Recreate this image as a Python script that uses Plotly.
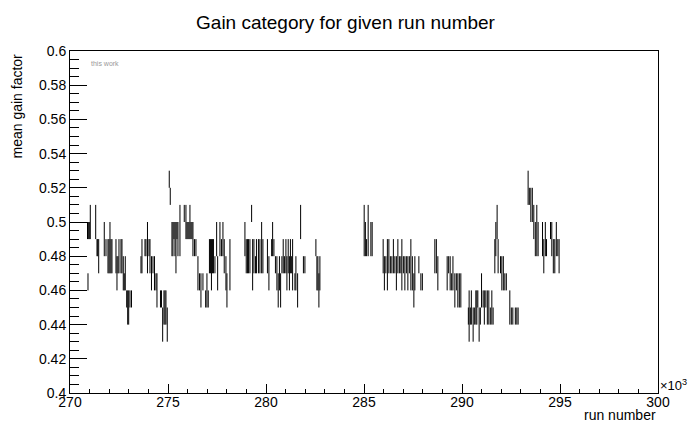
import plotly.graph_objects as go

# run numbers (each entry drawn as a vertical segment from lo to hi)
runs = [
    270893, 270918, 270954, 270984, 271035, 271311, 271377, 271413, 271464, 271749,
    271836, 271938, 271989, 272040, 272091, 272142, 272346, 272397, 272448, 272499,
    272601, 272652, 272718, 272769, 272820, 272892, 272943, 272994, 273060, 273137,
    273621, 273672, 273825, 273876, 273953, 274029, 274080, 274157, 274233, 274310,
    274386, 274437, 274616, 274667, 274728, 274794, 274845, 274896, 274962,
    275064, 275115, 275202, 275253, 275304, 275355, 275406, 275457, 275508, 275610,
    275829, 275916, 275967, 276018, 276069, 276120, 276171, 276222, 276273, 276350,
    276426, 276528, 276605, 276681, 276783, 276921, 276987, 277053, 277115, 277166,
    277217, 277268, 277319, 277395, 277482, 277533, 277650, 277727, 277803, 277869,
    277956, 278007, 278160, 278925, 278991, 279053, 279104, 279180, 279266, 279318,
    279384, 279461, 279512, 279614, 279690, 279777, 279843, 280073, 280149, 280287,
    280338, 280404, 280481, 280557, 280623, 280685, 280746, 280812, 280878, 280940,
    281016, 281067, 281133, 281195, 281246, 281307, 281358, 281475, 281526, 281613,
    281766, 281909, 281985, 282546, 282597, 282648, 282699, 282750,
    285009, 285071, 285132, 285213, 285351, 285417, 285978, 286040, 286116, 286193,
    286269, 286346, 286422, 286499, 286575, 286652, 286728, 286805, 286881, 286932,
    287009, 287085, 287162, 287238, 287315, 287391, 287468, 287544, 287595, 287799,
    287901, 287978, 288615, 288692, 288768,
    289243, 289319, 289396, 289472, 289538, 289635, 289712, 289788, 289865, 289941,
    290324, 290364, 290426, 290477, 290568, 290630, 290706, 290757, 290808, 290874,
    290936, 290997, 291078, 291140, 291216, 291293, 291369, 291446, 291522, 291588,
    291675, 291726, 291792, 291843, 291966, 292032, 292109, 292185, 292262, 292440,
    292517, 292593, 292721, 292797, 292863,
    293373, 293435, 293511, 293588, 293664, 293741, 293817, 293883, 294108, 294174,
    294251, 294312, 294516, 294582, 294659, 294735, 294812, 294888, 294954,
]
gain_lo = [
    0.49, 0.46, 0.49, 0.49, 0.49, 0.49, 0.48, 0.48, 0.47, 0.48,
    0.48, 0.47, 0.47, 0.47, 0.47, 0.47, 0.47, 0.46, 0.47, 0.47,
    0.47, 0.47, 0.46, 0.46, 0.46, 0.45, 0.44, 0.44, 0.45, 0.45,
    0.47, 0.47, 0.48, 0.48, 0.47, 0.48, 0.47, 0.46, 0.47, 0.46,
    0.46, 0.45, 0.45, 0.45, 0.43, 0.44, 0.44, 0.44, 0.43,
    0.52, 0.51, 0.48, 0.48, 0.49, 0.48, 0.47, 0.49, 0.48, 0.48,
    0.50, 0.49, 0.49, 0.49, 0.49, 0.49, 0.49, 0.49, 0.48, 0.48,
    0.48, 0.46, 0.46, 0.45, 0.46, 0.45, 0.45, 0.45, 0.47, 0.47,
    0.46, 0.47, 0.47, 0.47, 0.48, 0.46, 0.48, 0.48, 0.48, 0.47,
    0.46, 0.45, 0.46, 0.48, 0.47, 0.47, 0.47, 0.47, 0.50, 0.46,
    0.47, 0.47, 0.47, 0.47, 0.47, 0.47, 0.47, 0.47, 0.46, 0.48,
    0.48, 0.48, 0.47, 0.46, 0.45, 0.46, 0.45, 0.47, 0.47, 0.47,
    0.47, 0.46, 0.47, 0.46, 0.47, 0.47, 0.46, 0.46, 0.46, 0.45,
    0.49, 0.47, 0.47, 0.48, 0.46, 0.46, 0.45, 0.46,
    0.48, 0.48, 0.48, 0.48, 0.48, 0.48, 0.47, 0.46, 0.47, 0.46,
    0.47, 0.47, 0.47, 0.47, 0.47, 0.46, 0.47, 0.47, 0.47, 0.46,
    0.47, 0.46, 0.47, 0.46, 0.47, 0.46, 0.46, 0.45, 0.46, 0.47,
    0.46, 0.46, 0.47, 0.47, 0.46,
    0.46, 0.47, 0.46, 0.46, 0.46, 0.45, 0.46, 0.45, 0.45, 0.45,
    0.44, 0.43, 0.44, 0.44, 0.43, 0.44, 0.44, 0.44, 0.45, 0.43,
    0.44, 0.45, 0.45, 0.44, 0.45, 0.44, 0.44, 0.44, 0.44, 0.44,
    0.47, 0.48, 0.49, 0.47, 0.47, 0.46, 0.46, 0.46, 0.46, 0.44,
    0.44, 0.44, 0.44, 0.44, 0.44,
    0.51, 0.51, 0.50, 0.50, 0.49, 0.48, 0.48, 0.48, 0.48, 0.47,
    0.48, 0.48, 0.49, 0.48, 0.47, 0.47, 0.48, 0.48, 0.47,
]
gain_hi = [
    0.50, 0.47, 0.50, 0.50, 0.51, 0.51, 0.49, 0.49, 0.49, 0.50,
    0.49, 0.49, 0.49, 0.50, 0.49, 0.49, 0.49, 0.48, 0.48, 0.49,
    0.49, 0.49, 0.48, 0.47, 0.48, 0.46, 0.46, 0.46, 0.46, 0.46,
    0.48, 0.49, 0.49, 0.49, 0.50, 0.49, 0.49, 0.48, 0.48, 0.48,
    0.47, 0.47, 0.46, 0.46, 0.45, 0.46, 0.46, 0.46, 0.45,
    0.53, 0.52, 0.50, 0.50, 0.50, 0.50, 0.50, 0.50, 0.50, 0.51,
    0.51, 0.51, 0.50, 0.50, 0.50, 0.51, 0.50, 0.50, 0.50, 0.49,
    0.49, 0.48, 0.47, 0.47, 0.47, 0.46, 0.47, 0.46, 0.49, 0.49,
    0.49, 0.49, 0.49, 0.48, 0.50, 0.48, 0.50, 0.49, 0.50, 0.49,
    0.48, 0.47, 0.49, 0.50, 0.49, 0.49, 0.49, 0.49, 0.51, 0.49,
    0.49, 0.48, 0.49, 0.49, 0.49, 0.50, 0.49, 0.49, 0.48, 0.49,
    0.50, 0.49, 0.48, 0.48, 0.47, 0.48, 0.47, 0.48, 0.49, 0.48,
    0.49, 0.48, 0.49, 0.48, 0.49, 0.48, 0.49, 0.47, 0.48, 0.47,
    0.51, 0.48, 0.48, 0.49, 0.48, 0.48, 0.47, 0.48,
    0.51, 0.50, 0.49, 0.51, 0.50, 0.50, 0.49, 0.48, 0.48, 0.49,
    0.49, 0.48, 0.48, 0.49, 0.48, 0.48, 0.49, 0.48, 0.48, 0.49,
    0.48, 0.48, 0.48, 0.48, 0.48, 0.49, 0.48, 0.47, 0.48, 0.48,
    0.47, 0.47, 0.49, 0.49, 0.48,
    0.48, 0.48, 0.48, 0.47, 0.48, 0.47, 0.47, 0.47, 0.47, 0.47,
    0.45, 0.46, 0.45, 0.46, 0.45, 0.45, 0.46, 0.46, 0.46, 0.45,
    0.45, 0.47, 0.46, 0.46, 0.46, 0.46, 0.46, 0.45, 0.46, 0.45,
    0.49, 0.50, 0.51, 0.49, 0.48, 0.48, 0.48, 0.47, 0.47, 0.46,
    0.45, 0.45, 0.45, 0.45, 0.45,
    0.53, 0.52, 0.52, 0.52, 0.51, 0.50, 0.51, 0.50, 0.50, 0.49,
    0.50, 0.49, 0.50, 0.50, 0.49, 0.49, 0.50, 0.49, 0.49,
]

x_ticks = [270000, 275000, 280000, 285000, 290000, 295000, 300000]
x_tick_labels = ["270", "275", "280", "285", "290", "295", "300"]

xs, ys = [], []
for r, a, b in zip(runs, gain_lo, gain_hi):
    xs += [r, r, None]
    ys += [a, b, None]

FONT = "Liberation Sans, Arial, Helvetica, sans-serif"

fig = go.Figure()
fig.add_trace(go.Scatter(x=xs, y=ys, mode="lines",
                         line=dict(color="black", width=1),
                         connectgaps=False, hoverinfo="skip", showlegend=False))

fig.update_layout(
    width=691, height=425,
    margin=dict(l=70, r=33, t=51, b=32),
    paper_bgcolor="white", plot_bgcolor="white",
    font=dict(family=FONT, size=14, color="black"),
    title=dict(text="Gain category for given run number", x=0.5, xref="container",
               xanchor="center", y=1 - 22 / 425, yref="container", yanchor="middle",
               font=dict(size=19, family=FONT, color="black")),
    showlegend=False,
)

fig.update_xaxes(
    range=[270000, 300000], tickvals=x_ticks, ticktext=x_tick_labels,
    ticks="inside", ticklen=9, tickwidth=1, tickcolor="black",
    minor=dict(dtick=1000, ticks="inside", ticklen=4, tickwidth=1, tickcolor="black"),
    showgrid=False, zeroline=False, showline=True, linecolor="black", linewidth=1,
    mirror=True, tickfont=dict(size=14, family=FONT), ticklabelstandoff=-4,
)
fig.update_yaxes(
    range=[0.4, 0.6], dtick=0.02, tick0=0.4,
    ticks="inside", ticklen=17, tickwidth=1, tickcolor="black",
    minor=dict(dtick=0.005, ticks="inside", ticklen=9, tickwidth=1, tickcolor="black"),
    showgrid=False, zeroline=False, showline=True, linecolor="black", linewidth=1,
    mirror=True, tickfont=dict(size=14, family=FONT),
)

fig.add_annotation(text="mean gain factor", textangle=-90, xref="paper", yref="paper",
                   x=-53 / 588, y=0.997, xanchor="center", yanchor="top",
                   showarrow=False, font=dict(size=14, family=FONT))
fig.add_annotation(text="run number", xref="paper", yref="paper",
                   x=1.0, y=-22 / 342, xanchor="right", yanchor="middle",
                   showarrow=False, font=dict(size=14, family=FONT))
fig.add_annotation(text="×10<sup>3</sup>", xref="paper", yref="paper",
                   x=1.0, y=8 / 342, xanchor="left", yanchor="middle",
                   showarrow=False, font=dict(size=13, family=FONT))
fig.add_annotation(text="this work", xref="paper", yref="paper",
                   x=19 / 588, y=1 - 13 / 342, xanchor="left", yanchor="middle",
                   showarrow=False, font=dict(size=7, family=FONT, color="#999999"))

fig.write_html("out.html")
